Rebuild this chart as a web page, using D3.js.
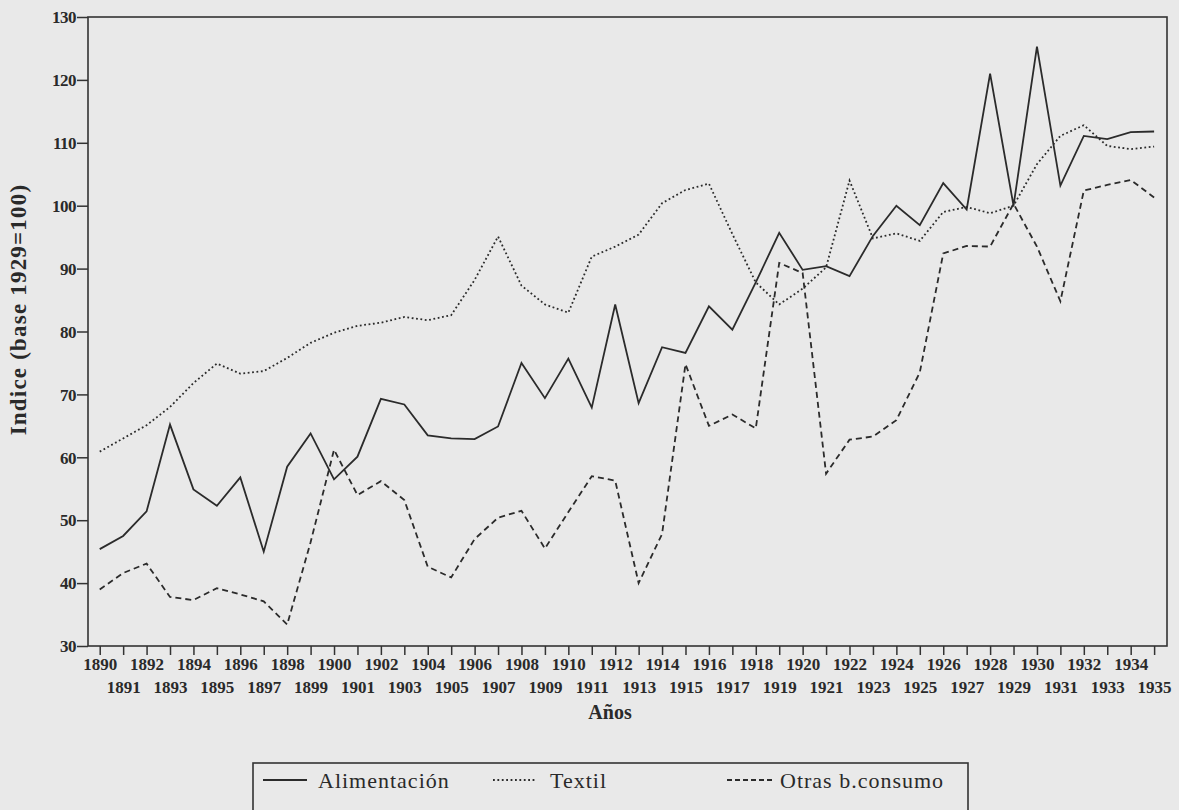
<!DOCTYPE html>
<html lang="es">
<head>
<meta charset="UTF-8">
<title>Indice 1890-1935</title>
<script src="https://d3js.org/d3.v7.min.js"></script>
<style>
  html, body { margin: 0; padding: 0; background: #e9e9e9; }
  svg { display: block; }
  text { font-family: "Liberation Serif", "Times New Roman", serif; fill: #2a2a2a; }
  .tick text { font-size: 17px; font-weight: bold; }
  .axis path, .axis line { stroke: #333; stroke-width: 1.5; }
  .serie { fill: none; stroke: #2b2b2b; stroke-width: 1.8; }
</style>
</head>
<body>
<svg width="1179" height="810"></svg>
<script>
const years = d3.range(1890, 1936);

const alimentacion = [45.4, 47.5, 51.4, 65.2, 54.9, 52.3, 56.8, 45.0, 58.5, 63.8,
  56.5, 60.1, 69.3, 68.4, 63.5, 63.0, 62.9, 64.9, 75.0, 69.4,
  75.7, 67.9, 84.3, 68.6, 77.5, 76.6, 84.0, 80.3, 87.8, 95.7,
  89.8, 90.4, 88.8, 95.2, 100.0, 96.9, 103.6, 99.4, 121.0, 100.0,
  125.3, 103.2, 111.1, 110.6, 111.7, 111.8];

const textil = [60.9, 63.0, 65.1, 68.0, 71.8, 74.9, 73.3, 73.7, 75.8, 78.2,
  79.8, 80.9, 81.4, 82.3, 81.8, 82.6, 88.2, 95.1, 87.3, 84.3,
  83.0, 91.9, 93.5, 95.4, 100.4, 102.5, 103.5, 95.5, 87.8, 84.3,
  86.8, 90.2, 104.0, 94.8, 95.6, 94.4, 99.0, 99.8, 98.8, 100.0,
  106.6, 111.1, 112.8, 109.5, 109.0, 109.4];

const otras = [39.0, 41.6, 43.1, 37.8, 37.3, 39.2, 38.2, 37.1, 33.4, 46.5,
  61.2, 54.0, 56.2, 53.2, 42.6, 40.9, 47.0, 50.4, 51.5, 45.5,
  51.3, 57.0, 56.3, 40.0, 47.8, 74.8, 65.0, 66.8, 64.6, 90.9,
  89.3, 57.4, 62.8, 63.3, 65.9, 73.5, 92.4, 93.6, 93.5, 100.3,
  93.5, 84.8, 102.4, 103.3, 104.1, 101.3];

const yTicks = [30, 40, 50, 60, 70, 80, 90, 100, 110, 120, 130];

const series = [
  { name: "Alimentación", values: alimentacion, dash: null },
  { name: "Textil", values: textil, dash: "1.8,2.6" },
  { name: "Otras b.consumo", values: otras, dash: "6,4" }
];

const plotLeft = 88, plotRight = 1167, plotTop = 17, plotBottom = 646;
const svg = d3.select("svg");

const x = d3.scaleLinear().domain([1889.5, 1935.55]).range([plotLeft, plotRight]);
const y = d3.scaleLinear().domain([30, 130]).range([plotBottom, plotTop]);

// marco
svg.append("rect")
  .attr("x", plotLeft).attr("y", plotTop)
  .attr("width", plotRight - plotLeft).attr("height", plotBottom - plotTop)
  .attr("fill", "none").attr("stroke", "#333").attr("stroke-width", 1.6);

// eje Y
const yAxis = svg.append("g")
  .attr("class", "axis")
  .attr("transform", `translate(${plotLeft},0)`)
  .call(d3.axisLeft(y).tickValues(yTicks).tickSize(11).tickPadding(1).tickSizeOuter(0));
yAxis.select(".domain").remove();
yAxis.selectAll("text").attr("dy", "0.34em").style("letter-spacing", "-0.5px");

// eje X
const xAxis = svg.append("g")
  .attr("class", "axis")
  .attr("transform", `translate(0,${plotBottom})`)
  .call(d3.axisBottom(x).tickValues(years).tickFormat(d3.format("d")).tickSize(9).tickSizeOuter(0));
xAxis.select(".domain").remove();
xAxis.selectAll(".tick text")
  .attr("dy", null)
  .attr("y", d => d % 2 === 0 ? 24 : 47);

// series
const line = d3.line()
  .x((d, i) => x(years[i]))
  .y(d => y(d));

series.forEach(s => {
  svg.append("path")
    .datum(s.values)
    .attr("class", "serie")
    .attr("stroke-dasharray", s.dash)
    .attr("d", line);
});

// títulos
svg.append("text")
  .attr("x", 610).attr("y", 719)
  .attr("text-anchor", "middle")
  .style("font-size", "20px")
  .style("font-weight", "bold")
  .text("Años");

svg.append("text")
  .attr("transform", `translate(26,${(plotTop + plotBottom) / 2 - 22}) rotate(-90)`)
  .attr("text-anchor", "middle")
  .style("font-size", "23px")
  .style("font-weight", "bold")
  .style("letter-spacing", "1.2px")
  .text("Indice (base 1929=100)");

// leyenda
const legend = svg.append("g");
legend.append("rect")
  .attr("x", 253).attr("y", 763)
  .attr("width", 715).attr("height", 70)
  .attr("fill", "none").attr("stroke", "#333").attr("stroke-width", 1.6);

const legendPos = [
  { x1: 263, x2: 307, tx: 318 },
  { x1: 493, x2: 537, tx: 550 },
  { x1: 727, x2: 772, tx: 780 }
];

series.forEach((s, i) => {
  const p = legendPos[i];
  legend.append("line")
    .attr("class", "serie")
    .attr("x1", p.x1).attr("x2", p.x2)
    .attr("y1", 780).attr("y2", 780)
    .attr("stroke-dasharray", i === 2 ? "5,3" : s.dash);
  legend.append("text")
    .attr("x", p.tx).attr("y", 788)
    .style("font-size", "22px")
    .style("letter-spacing", "1px")
    .text(s.name);
});
</script>
</body>
</html>
